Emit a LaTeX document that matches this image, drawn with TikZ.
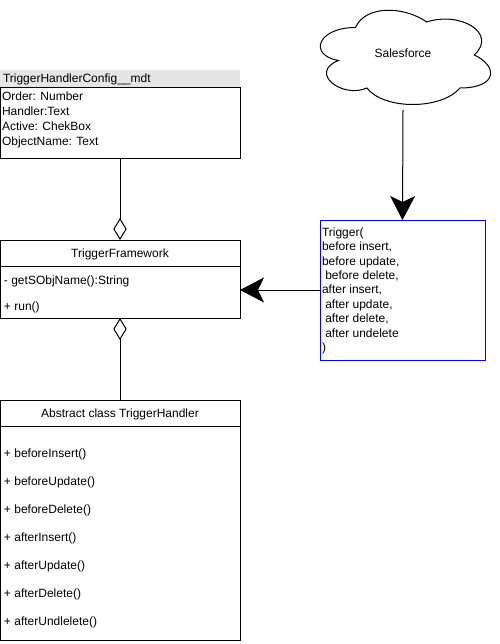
\documentclass[tikz,border=0pt]{standalone}
\usepackage{fontspec}
\setmainfont{Liberation Sans}
\usetikzlibrary{arrows.meta,calc}
\definecolor{hdrgray}{RGB}{230,230,230}
\definecolor{trigblue}{RGB}{0,0,255}
\begin{document}
\begin{tikzpicture}[x=1pt,y=-1pt,
  every node/.style={font=\fontsize{12}{14.4}\selectfont, inner sep=0pt, outer sep=0pt},
  umlbox/.style={draw=black, line width=1pt, rectangle, anchor=north west},
  hdrbox/.style={fill=hdrgray, rectangle, anchor=north west},
  trigbox/.style={draw=trigblue, line width=1pt, rectangle, anchor=north west},
  lbl/.style={anchor=base west},
  ttl/.style={anchor=base},
  conn/.style={draw=black, line width=1pt},
  bigarrow/.style={-{Stealth[length=24pt,width=25pt,inset=6pt]}},
  aggend/.style={-{Diamond[open,length=22pt,width=13.4pt,fill=white]}},
  aggstart/.style={{Diamond[open,length=22pt,width=13.4pt,fill=white]}-},
  cloudline/.style={draw=black, line width=1pt, fill=white}
]
\useasboundingbox (0,0) rectangle (499,644);

% ---- Salesforce cloud ----
\node[minimum width=190pt, minimum height=110pt] (cloudbox) at (403,55) {};
\path[cloudline] ($(cloudbox.north west)+(47.5,27.5)$)
  .. controls ($(cloudbox.north west)+(9.5,27.5)$) and ($(cloudbox.north west)+(0,55)$) .. ($(cloudbox.north west)+(30.4,60.5)$)
  .. controls ($(cloudbox.north west)+(0,72.6)$) and ($(cloudbox.north west)+(34.2,99)$) .. ($(cloudbox.north west)+(58.9,88)$)
  .. controls ($(cloudbox.north west)+(76,110)$) and ($(cloudbox.north west)+(133,110)$) .. ($(cloudbox.north west)+(152,88)$)
  .. controls ($(cloudbox.north west)+(190,88)$) and ($(cloudbox.north west)+(190,66)$) .. ($(cloudbox.north west)+(166.25,55)$)
  .. controls ($(cloudbox.north west)+(190,33)$) and ($(cloudbox.north west)+(152,11)$) .. ($(cloudbox.north west)+(118.75,22)$)
  .. controls ($(cloudbox.north west)+(95,5.5)$) and ($(cloudbox.north west)+(57,5.5)$) .. cycle;
\node[ttl] (sftext) at (403,58) {Salesforce};

% ---- TriggerHandlerConfig__mdt ----
\node[hdrbox, minimum width=240pt, minimum height=18pt] (cfghdr) at (0,70) {};
\node[umlbox, minimum width=240pt, minimum height=71pt] (config) at (0,88) {};
\node[lbl] (cfgtitle) at (3,82.3) {TriggerHandlerConfig\_\_mdt};
\node[lbl] (cfg1) at (2,100.3) {Order: Number};
\node[lbl] (cfg2) at (2,115.8) {Handler:Text};
\node[lbl] (cfg3) at (2,130.8) {Active: ChekBox};
\node[lbl] (cfg4) at (2,145.3) {ObjectName: Text};

% ---- TriggerFramework ----
\node[umlbox, minimum width=240pt, minimum height=78pt] (fw) at (0,240) {};
\coordinate (fwdivl) at (0,266);
\draw[conn] (fwdivl) -- (fwdivl -| fw.east);
\node[ttl] (fwtitle) at (120,257.3) {TriggerFramework};
\node[lbl] (fw1) at (4,284.3) {- getSObjName():String};
\node[lbl] (fw2) at (4,310.3) {+ run()};

% ---- Abstract class TriggerHandler ----
\node[umlbox, minimum width=240pt, minimum height=240pt] (th) at (0,400) {};
\coordinate (thdivl) at (0,426);
\draw[conn] (thdivl) -- (thdivl -| th.east);
\node[ttl] (thtitle) at (120,417.3) {Abstract class TriggerHandler};
\node[lbl] (th1) at (4,457.3) {+ beforeInsert()};
\node[lbl] (th2) at (4,485.3) {+ beforeUpdate()};
\node[lbl] (th3) at (4,513.3) {+ beforeDelete()};
\node[lbl] (th4) at (4,541.3) {+ afterInsert()};
\node[lbl] (th5) at (4,569.3) {+ afterUpdate()};
\node[lbl] (th6) at (4,597.3) {+ afterDelete()};
\node[lbl] (th7) at (4,625.3) {+ afterUndlelete()};

% ---- Trigger box ----
\node[trigbox, minimum width=165pt, minimum height=140pt] (trig) at (320,220) {};
\node[lbl] (tr0) at (322,236.3) {Trigger(};
\node[lbl] (tr1) at (322,250.7) {before insert,};
\node[lbl] (tr2) at (322,265.1) {before update,};
\node[lbl] (tr3) at (325.3,279.5) {before delete,};
\node[lbl] (tr4) at (322,293.9) {after insert,};
\node[lbl] (tr5) at (325.3,308.3) {after update,};
\node[lbl] (tr6) at (325.3,322.7) {after delete,};
\node[lbl] (tr7) at (325.3,337.1) {after undelete};
\node[lbl] (tr8) at (322,351.5) {)};

% ---- connectors ----
\draw[conn, aggend] (config.south) -- (fw.north);
\draw[conn, aggstart] (fw.south) -- (th.north);
\draw[conn, bigarrow] (cloudbox.south) -- (trig.north);
\draw[conn, bigarrow] (trig.west) -- (trig.west -| fw.east);
\end{tikzpicture}
\end{document}
